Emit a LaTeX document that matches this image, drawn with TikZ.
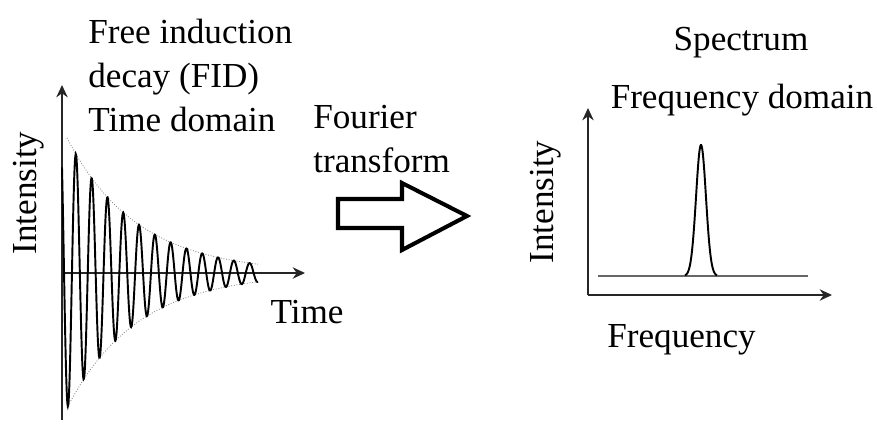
\documentclass[tikz,border=0pt]{standalone}
\usepackage{fontspec}
\setmainfont{Liberation Serif}
\usetikzlibrary{arrows.meta}

\tikzstyle{label text} = [font=\fontsize{20}{25}\selectfont, inner sep=0pt]
\tikzstyle{axis} = [draw,line width=0.9pt,-{Stealth[length=7pt,width=6.5pt]},black!85]
\tikzstyle{signal} = [draw,line width=1.1pt,black]
\tikzstyle{envelope} = [draw,densely dotted,line width=0.5pt,black!45]
\tikzstyle{baseline} = [draw,line width=0.6pt,black!60]
\tikzstyle{block arrow} = [draw,line width=2.3pt,line join=miter,fill=white]

\begin{document}
\begin{tikzpicture}[x=0.02cm,y=-0.02cm]
      \useasboundingbox (0,0) rectangle (877,424);
      %nodes
      \foreach \nodename/\x/\y/\text in {
        free/88/43/Free induction,
        decay/88/87/decay (FID),
        tdom/88/131/Time domain,
        fourier/313/128/Fourier,
        transf/313/172/transform,
        freq/607/347/Frequency}
      {
        \node[label text, anchor=base west] (\nodename) at (\x,\y) {\text};
      };
      \node[label text, anchor=base] (time) at (307,323) {Time};
      \node[label text, anchor=base] (spec) at (741,50) {Spectrum};
      \node[label text, anchor=base] (fdom) at (742,108) {Frequency domain};
      \node[label text, anchor=base, rotate=90] (int1) at (36,193) {Intensity};
      \node[label text, anchor=base, rotate=90] (int2) at (553,202) {Intensity};

      %axes
      \coordinate (o1) at (62,273);
      \coordinate (yb1) at (62,420);
      \coordinate (yt1) at (62,85);
      \coordinate (xt1) at (305,273);
      \coordinate (o2) at (588,295);
      \coordinate (yt2) at (588,108);
      \coordinate (xt2) at (832,295);
      \path[axis] (yb1) -- (yt1);
      \path[axis] (o1) -- (xt1);
      \path[axis] (o2) -- (yt2);
      \path[axis] (o2) -- (xt2);

      %time signal
      \foreach \sgn in {1,-1}
      {
        \path[envelope] plot[domain=67:258, samples=80]
          (\x, {273 - \sgn*145*exp(-(\x-62)/70)});
      };
      \path[signal] plot[domain=62:258, samples=500, smooth]
        (\x, {273 - 145*exp(-(\x-62)/70)*cos((\x-68)/15.8*360+180)});

      %spectrum
      \path[baseline] (598,276) -- (808,276);
      \path[signal] plot[domain=685:717, samples=80, smooth]
        (\x, {276 - 131*exp(-((\x-701)/7)^2)});

      %transform arrow
      \path[block arrow] (338,199) -- (402,199) -- (402,183) -- (467,216)
        -- (402,250) -- (402,228) -- (338,228) -- cycle;
    \end{tikzpicture}
\end{document}
